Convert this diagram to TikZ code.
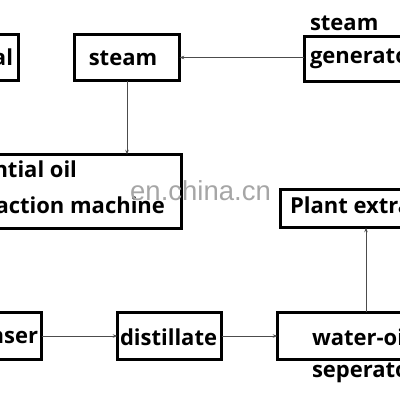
\documentclass[tikz,border=0pt]{standalone}
\usepackage{fontspec}
\setmainfont{Open Sans}
\newfontfamily\wmfont{Liberation Sans}
\usetikzlibrary{arrows.meta}
\begin{document}
\begin{tikzpicture}[x=1pt,y=-1pt,
  box/.style={draw=black, line width=2.6pt, inner sep=0pt, outer sep=0pt},
  lbl/.style={inner sep=0pt, outer sep=0pt, text=black, font=\fontsize{22}{26}\selectfont\bfseries},
  conn/.style={draw=black!70, line width=0.8pt, -{Stealth[length=4.5pt,width=3.5pt]}},
  wm/.style={inner sep=0pt, text=black!35, font=\wmfont\fontsize{27.5}{30}\selectfont}]
\useasboundingbox (0,0) rectangle (400,400);
\clip (0,0) rectangle (400,400);
% boxes
\node[box, minimum width=117.4pt, minimum height=46.4pt] (raw) at (-40,57.5) {};
\node[box, minimum width=105.4pt, minimum height=46.4pt] (steam) at (127,57.5) {};
\node[box, minimum width=194.4pt, minimum height=45.4pt] (gen) at (401.5,59) {};
\node[box, minimum width=240.4pt, minimum height=74.4pt] (ess) at (61.5,191.5) {};
\node[box, minimum width=238.4pt, minimum height=38.4pt] (plant) at (399.5,208.5) {};
\node[box, minimum width=120.4pt, minimum height=47.4pt] (cond) at (-18.5,336) {};
\node[box, minimum width=104.4pt, minimum height=47.4pt] (dist) at (169.5,336) {};
\node[box, minimum width=241.4pt, minimum height=47.4pt] (water) at (398,336) {};
% texts
\node[lbl, anchor=base east] (rawt) at (13,65) {Raw material};
\node[lbl, anchor=base] (steamt) at (123,65) {steam};
\node[lbl, anchor=base west] (gent1) at (310,30) {steam};
\node[lbl, anchor=base west] (gent2) at (310,63) {generator};
\node[lbl, anchor=base east] (esst1) at (77,177) {Essential oil};
\node[lbl, anchor=base east] (esst2) at (165,213) {extraction machine};
\node[lbl, anchor=base west] (plantt) at (290,213) {Plant extractor};
\node[lbl, anchor=base east] (condt) at (38,343) {condenser};
\node[lbl, anchor=base west] (distt) at (120,345) {distillate};
\node[lbl, anchor=base west] (watert1) at (312,345) {water-oil};
\node[lbl, anchor=base west] (watert2) at (312,377) {seperator};
\node[wm, anchor=base west] (mark) at (130,200) {en.china.cn};
% connectors
\draw[conn] (gen.west |- steam.east) -- (steam.east);
\draw[conn] (steam.south) -- (steam.south |- ess.north);
\draw[conn] (cond.east) -- (dist.west);
\draw[conn] (dist.east) -- (water.west);
\draw[conn] ([xshift=-32pt]water.north) -- ([xshift=-32pt]water.north |- plant.south);
\end{tikzpicture}
\end{document}
